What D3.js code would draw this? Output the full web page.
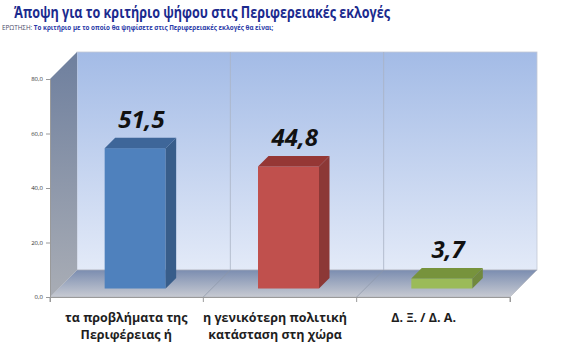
<!DOCTYPE html>
<html>
<head>
<meta charset="utf-8">
<script src="https://cdn.jsdelivr.net/npm/d3@7"></script>
<style>
  body { margin: 0; background: #fff; }
  text { font-family: "Open Sans", sans-serif; }
</style>
</head>
<body>
<svg id="chart" width="570" height="354"></svg>
<script>
// data
const categories = ["τα προβλήματα της|Περιφέρειας ή", "η γενικότερη πολιτική|κατάσταση στη χώρα", "Δ. Ξ. / Δ. Α."];
const values = [51.5, 44.8, 3.7];
const valueLabels = ["51,5", "44,8", "3,7"];
const yTicks = [0, 20, 40, 60, 80];
const barColors = [
  { front: "#4f81bd", side: "#385d8a", top: "#3e6699" },
  { front: "#c0504d", side: "#8c3836", top: "#953735" },
  { front: "#9bbb59", side: "#71893f", top: "#77933c" }
];

const svg = d3.select("#chart");
const depth = 27;     // depth of the 3D box
const barOff = 8.5;   // bar front sits this deep into the box
const barDepth = 10.5;

const y = d3.scaleLinear().domain([0, 80]).range([297, 79]);
const x = d3.scaleBand().domain(categories).range([50, 510]);
const xLabel = d3.scaleBand().domain(categories).range([52, 498]);

const defs = svg.append("defs");
function grad(id, x1, y1, x2, y2, stops) {
  const g = defs.append("linearGradient").attr("id", id)
    .attr("x1", x1).attr("y1", y1).attr("x2", x2).attr("y2", y2);
  stops.forEach(s => g.append("stop").attr("offset", s[0]).attr("stop-color", s[1]));
}
grad("wallG", 0, 0, 0, 1, [[0, "#a3bbe6"], [1, "#e3eaf8"]]);
grad("sideG", 0, 0, 0, 1, [[0, "#6e7f9e"], [1, "#a9adb5"]]);
grad("floorG", 0, 0, 0, 1, [[0, "#7b8db0"], [1, "#c7cad2"]]);

const x0 = x.range()[0], x1 = x.range()[1];
const y0 = y(0), yTop = y(80);

//_________________ 3D box
// back wall
svg.append("rect")
  .attr("x", x0 + depth).attr("y", yTop - depth)
  .attr("width", x1 - x0).attr("height", y0 - yTop)
  .attr("fill", "url(#wallG)").attr("stroke", "#c4c9d4").attr("stroke-width", 0.8);
// left side wall
svg.append("path")
  .attr("d", `M${x0},${yTop}L${x0 + depth},${yTop - depth}L${x0 + depth},${y0 - depth}L${x0},${y0}Z`)
  .attr("fill", "url(#sideG)");
// floor
svg.append("path")
  .attr("d", `M${x0},${y0}L${x0 + depth},${y0 - depth}L${x1 + depth},${y0 - depth}L${x1},${y0}Z`)
  .attr("fill", "url(#floorG)").attr("stroke", "#b0b4bc").attr("stroke-width", 0.6);

// category dividers
categories.slice(1).forEach(c => {
  const xx = x(c);
  svg.append("line")
    .attr("x1", xx + depth).attr("x2", xx + depth)
    .attr("y1", yTop - depth).attr("y2", y0 - depth)
    .attr("stroke", "#a9b2c4").attr("stroke-width", 0.8);
  svg.append("line")
    .attr("x1", xx + depth).attr("x2", xx)
    .attr("y1", y0 - depth).attr("y2", y0)
    .attr("stroke", "#8d96a8").attr("stroke-width", 0.7);
});

//_________________ Axes
const yAxis = d3.axisLeft(y).tickValues(yTicks).tickSize(4)
  .tickFormat(d => d3.format(".1f")(d).replace(".", ","));
const ya = svg.append("g").attr("transform", `translate(${x0},0)`).call(yAxis);
ya.select(".domain").attr("stroke", "#9a9a9a");
ya.selectAll(".tick line").attr("stroke", "#9a9a9a");
ya.selectAll(".tick text").attr("font-size", 6).attr("fill", "#333")
  .attr("font-family", "Open Sans, sans-serif");

const xAxis = d3.axisBottom(x).tickSize(5).tickFormat("");
const xa = svg.append("g").attr("transform", `translate(0,${y0})`).call(xAxis);
xa.selectAll(".tick").remove();
xa.select(".domain").attr("stroke", "#9a9a9a");
// tick marks at band boundaries
const bounds = categories.map(c => x(c)).concat([x1]);
xa.selectAll(".bt").data(bounds).enter().append("line")
  .attr("x1", d => d).attr("x2", d => d).attr("y1", 0).attr("y2", 5)
  .attr("stroke", "#9a9a9a");

//_________________ Bars
const bw = 61;
categories.forEach((c, i) => {
  const cx = x(c) + x.bandwidth() / 2 + barOff;
  const left = cx - bw / 2, right = cx + bw / 2;
  const base = y(0) - barOff, top = y(values[i]) - barOff;
  const col = barColors[i];
  const g = svg.append("g");
  g.append("rect").attr("x", left).attr("y", top).attr("width", bw).attr("height", base - top)
    .attr("fill", col.front);
  g.append("path")
    .attr("d", `M${right},${top}L${right + barDepth},${top - barDepth}L${right + barDepth},${base - barDepth}L${right},${base}Z`)
    .attr("fill", col.side);
  g.append("path")
    .attr("d", `M${left},${top}L${left + barDepth},${top - barDepth}L${right + barDepth},${top - barDepth}L${right},${top}Z`)
    .attr("fill", col.top);
  svg.append("text")
    .attr("x", cx + barDepth / 2 + 1).attr("y", top - barDepth - 10)
    .attr("text-anchor", "middle")
    .attr("font-size", 24).attr("font-weight", "bold").attr("font-style", "italic")
    .attr("fill", "#111")
    .text(valueLabels[i]);
});

//_________________ Category labels
categories.forEach(c => {
  const lines = c.split("|");
  const t = svg.append("text")
    .attr("x", xLabel(c) + xLabel.bandwidth() / 2).attr("y", 322)
    .attr("text-anchor", "middle")
    .attr("font-size", 12.5).attr("font-weight", "bold").attr("fill", "#1e1e1e");
  lines.forEach((l, k) => {
    t.append("tspan").attr("x", xLabel(c) + xLabel.bandwidth() / 2)
      .attr("dy", k === 0 ? 0 : 17).text(l);
  });
});

//_________________ Titles
svg.append("text").attr("x", 14).attr("y", 18)
  .attr("font-size", 16).attr("font-weight", "bold").attr("fill", "#1b2a8e")
  .attr("textLength", 376).attr("lengthAdjust", "spacingAndGlyphs")
  .text("Άποψη για το κριτήριο ψήφου στις Περιφερειακές εκλογές");
const sub = svg.append("text").attr("x", 2).attr("y", 30)
  .attr("font-size", 6.3).attr("font-weight", "bold");
sub.append("tspan").attr("fill", "#4a4a6a").attr("font-weight", "normal").text("ΕΡΩΤΗΣΗ: ");
sub.append("tspan").attr("fill", "#2a3aa8").text("Το κριτήριο με το οποίο θα ψηφίσετε στις Περιφερειακές εκλογές θα είναι;");
</script>
</body>
</html>
